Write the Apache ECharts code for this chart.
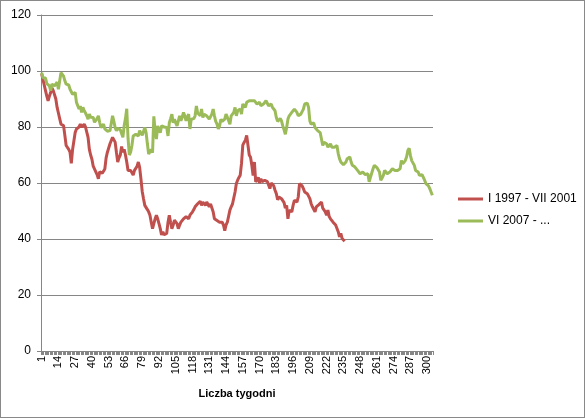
<!DOCTYPE html>
<html>
<head>
<meta charset="utf-8">
<script src="https://cdn.jsdelivr.net/npm/echarts@6/dist/echarts.min.js"></script>
<style>
html,body{margin:0;padding:0;background:#fff;}
#c{width:585px;height:418px;box-sizing:border-box;border:1px solid #898989;}
</style>
</head>
<body>
<div id="c"></div>
<script>
var weekCount = 304;
var seriesNames = ['I 1997 - VII 2001', 'VI 2007 - ...'];
var xAxisTitle = 'Liczba tygodni';

var red = [
99,97,95,93,91,89.3,91,92.3,94,93,
93.5,90,87,85,83,81,81.5,80.5,77,73.4,
73,72,71,67,72,75,78,79.3,78.7,80,
81,80,79.3,81,80,79.3,76.3,72,70,68.5,
66,65.7,64,63,61.5,64,63.4,63.5,64,65,
69,71,72.5,74,73.4,76.3,76,74.6,71,67.5,
69,70,73,71,72,70,67.5,64.5,65,64.5,
64,62.8,64.5,64,66,67.5,65.6,61.5,57,54.4,
52,51.5,50.5,49.7,48.5,46,43.7,45.5,47.2,48.5,
47.2,45.5,43.7,41.4,42.6,41.5,40.8,42,46,48.5,
46,43.7,45,46.7,46,45.5,43.7,45,46,46.5,
47.2,46.7,48,47.5,47.2,48.5,49,49.7,50.5,51.5,
51,52.6,53,53.5,52,53.2,52.5,52,53.2,52.6,
51.5,52.5,52,49.7,47.2,46.8,46.6,47.2,46,46.6,
46,45,43,45,46,46.6,50.3,51.5,52.5,53.2,
56.8,59.8,61,62,62.8,67,73.5,74.5,75.3,77,
76.5,70,69.2,66.3,62.7,67.5,60.4,60,62,60,
61.5,60.5,60.4,61,60.4,60.5,60,58,60,59.5,
59,57.4,56.2,54,55,55.3,54.4,55,53,51,
52,47.2,50.3,50,49.7,52,53.8,53.5,53.2,55,
59.8,59.8,59,58,56.8,56.8,56.2,55.6,54.4,52.6,
51.5,51,49.7,51.5,52,52.3,52.6,53.2,51,50.3,
49.7,48.5,50.3,48,47.2,46.7,46,45.5,45,44.3,
42.6,40.8,42,40.2,39.6,39.2
];

var green = [
99.4,97.6,98.2,97.5,95.5,96,94.7,93,95.3,95,
94.7,94,96,93.5,96.5,99.4,99.5,98.2,96.5,95.3,
96,95,93.5,94,91.7,92,92.3,88.8,88.2,86.4,
87.5,85.2,87,85.8,85,84,82.8,84.6,83.5,82.8,
83.4,81.7,82.2,83,84,81.7,79.8,80.5,81,79.3,
79.8,78.5,78,78.7,78.7,84,82,79.8,78.7,79.5,
79,79,78.7,76.3,80.4,83,86.5,76,70,71,
73.4,76.8,76.3,77.4,77,76.8,78.7,78,77,76.3,
79.8,78,74,70.3,69.7,72,70.8,83.8,78.7,75.7,
80.4,79,78,80.4,79.8,80,80.4,79.8,76.8,81.5,
83,84.6,81.5,82.8,81.5,80.4,79.8,84,82.2,83.5,
85.2,84,82.2,83.5,84.6,79.3,82.8,82.2,83,84,
87.5,85,85,84,86.4,83.4,84.5,85.2,84,84.6,
82.8,83.5,84.6,86.4,84,82,81,79.3,80.4,82.8,
82,81.5,82.8,84.6,83.5,82.8,81,84,84.5,85.2,
87,84,85.8,86,86.4,84.6,88.2,87.5,87,88.8,
88.2,89.4,89,89.4,88.8,89.4,89,88.2,88.8,88.8,
87.6,88,88.2,88.8,89.4,88.5,87.6,87,88.2,87,
86.4,85.8,83.4,82,82.5,83,82.2,80.4,79,77.4,
79.8,82.8,84,84.5,85.2,84.6,86.4,86,85.2,84,
83.4,84.6,85.5,86.4,88.2,88.8,88.5,87,82.2,81,
81.5,81.5,79.8,79.8,78.7,78.5,78,75.7,73.4,74.5,
75.1,74,72.8,73.5,74,72.8,72.2,72.8,73,73.4,
70.5,68.7,67.5,66.9,66.5,66.3,67.5,68.7,69,69.3,
67.5,66.3,66,65.7,65.1,64.5,64,63.3,63.3,63.9,
63.3,63,62.7,63.3,60.4,62,62.7,65.1,66.3,65.7,
65.5,65.1,63.9,61,61.8,62.7,64.5,63.9,63.3,63.3,
63.9,64.5,65.1,65,64.5,65.1,64.5,65,65.1,68,
66.9,67.5,68,69.3,71.6,72.4,69.8,68,67.5,66.3,
64.5,64.2,63.9,62.7,63.3,63,62.7,61,59.8,59.5,
59,58,56.8,55.6
];

var yTicks = [0, 20, 40, 60, 80, 100, 120];

var categories = [];
for (var i = 1; i <= weekCount; i++) categories.push(String(i));

var chart = echarts.init(document.getElementById('c'), null, {renderer: 'canvas'});
var font = 'Liberation Sans';
chart.setOption({
  animation: false,
  backgroundColor: '#ffffff',
  grid: {left: 40, right: 151, top: 14, bottom: 66, containLabel: false},
  legend: {
    orient: 'vertical',
    left: 452,
    top: 187,
    itemWidth: 25,
    itemHeight: 3,
    itemGap: 10,
    icon: 'rect',
    textStyle: {fontFamily: font, fontSize: 12, color: '#000'},
    data: seriesNames
  },
  xAxis: {
    type: 'category',
    data: categories,
    boundaryGap: true,
    name: xAxisTitle,
    nameLocation: 'middle',
    nameGap: 37,
    nameTextStyle: {fontFamily: font, fontSize: 11, fontWeight: 'bold', color: '#000'},
    axisLine: {show: true, lineStyle: {color: '#868686', width: 1}},
    axisTick: {show: true, interval: 0, length: 4, lineStyle: {color: '#868686'}},
    axisLabel: {interval: 12, rotate: 90, fontFamily: font, fontSize: 11, color: '#000', margin: 5},
    splitLine: {show: false}
  },
  yAxis: {
    type: 'value',
    min: yTicks[0],
    max: yTicks[yTicks.length - 1],
    interval: yTicks[1] - yTicks[0],
    axisLine: {show: true, lineStyle: {color: '#868686', width: 1}},
    axisTick: {show: true, length: 4, lineStyle: {color: '#868686'}},
    axisLabel: {fontFamily: font, fontSize: 12, color: '#000', margin: 10},
    splitLine: {show: true, lineStyle: {color: '#868686', width: 1}}
  },
  series: [
    {
      name: seriesNames[0],
      type: 'line',
      data: red,
      showSymbol: false,
      symbol: 'none',
      lineStyle: {color: '#C0504D', width: 3},
      itemStyle: {color: '#C0504D'}
    },
    {
      name: seriesNames[1],
      type: 'line',
      data: green,
      showSymbol: false,
      symbol: 'none',
      lineStyle: {color: '#9BBB59', width: 3},
      itemStyle: {color: '#9BBB59'}
    }
  ]
});
</script>
</body>
</html>
